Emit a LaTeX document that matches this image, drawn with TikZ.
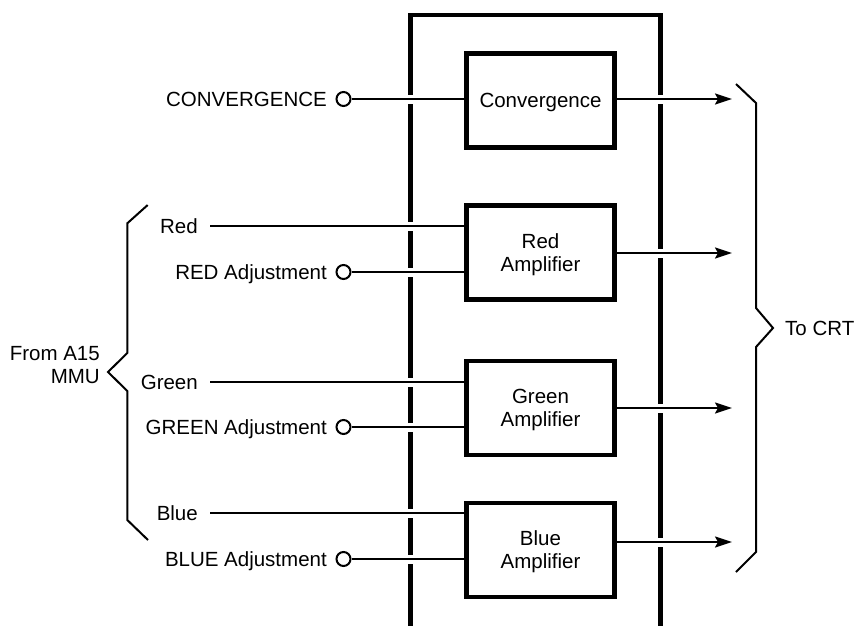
\documentclass[tikz,border=0pt]{standalone}
\usepackage{fontspec}
\setmainfont{Liberation Sans}
\usetikzlibrary{arrows.meta}
\begin{document}
\begin{tikzpicture}[x=1pt,y=-1pt,
  font=\fontsize{20.5pt}{23pt}\selectfont,
  lbl/.style={inner sep=0pt, text height=14.7pt, text depth=0pt},
  blk/.style={draw, line width=4.5pt, minimum width=148pt, minimum height=94pt,
              align=center, inner sep=0pt, text depth=0pt},
  term/.style={circle, draw, line width=2pt, minimum size=14pt, inner sep=0pt, fill=white},
  sig/.style={line width=2pt,
              preaction={draw=white, line width=9pt, -, shorten <=15pt, shorten >=15pt}},
  arr/.style={sig, -{Stealth[length=17pt,width=11pt,inset=3pt]}},
  brace/.style={line width=2pt, line join=miter},
  frame/.style={line width=4.5pt, line join=miter}]
\useasboundingbox (0,0) rectangle (857,625);

% outer frame (open at the bottom)
\draw[frame] (410.5,640) -- (410.5,15) -- (660.5,15) -- (660.5,640);

% blocks
\node[blk] (conv)  at (540.5,100.5) {Convergence};
\node[blk] (red)   at (540.5,252.7) {Red\\Amplifier};
\node[blk] (green) at (540.5,408)   {Green\\Amplifier};
\node[blk] (blue)  at (540.5,550)   {Blue\\Amplifier};

% terminals
\node[term] (cc) at (343.5,99)  {};
\node[term] (rc) at (343.5,272) {};
\node[term] (gc) at (343.5,427) {};
\node[term] (bc) at (343.5,559) {};

% labels
\node[lbl, anchor=east] (ccl) at (327,99)  {CONVERGENCE};
\node[lbl, anchor=east] (rcl) at (327,272) {RED Adjustment};
\node[lbl, anchor=east] (gcl) at (327,427) {GREEN Adjustment};
\node[lbl, anchor=east] (bcl) at (327,559) {BLUE Adjustment};
\node[lbl, anchor=east] (rl) at (198,226) {Red};
\node[lbl, anchor=east] (gl) at (198,382) {Green};
\node[lbl, anchor=east] (bl) at (198,513) {Blue};
\node[anchor=east, align=right, inner sep=0pt, text height=14.7pt, text depth=0pt] (mmu) at (100,376) {From A15\\MMU};
\node[lbl, anchor=west] (crt) at (785,328) {To CRT};

% signal line starts
\coordinate (rs) at (210,226);
\coordinate (gs) at (210,382);
\coordinate (bs) at (210,513);

% inputs
\draw[sig] (cc) -- (cc -| conv.west);
\draw[sig] (rs) -- (rs -| red.west);
\draw[sig] (rc) -- (rc -| red.west);
\draw[sig] (gs) -- (gs -| green.west);
\draw[sig] (gc) -- (gc -| green.west);
\draw[sig] (bs) -- (bs -| blue.west);
\draw[sig] (bc) -- (bc -| blue.west);

% outputs
\coordinate (co) at (732,99);
\coordinate (ro) at (732,253);
\coordinate (go) at (732,408);
\coordinate (bo) at (732,542);
\draw[arr] (conv.east |- co) -- (co);
\draw[arr] (red.east |- ro) -- (ro);
\draw[arr] (green.east |- go) -- (go);
\draw[arr] (blue.east |- bo) -- (bo);

% braces
\draw[brace] (147.7,205) -- (127.3,223.3) -- (127.3,353) -- (108,372) -- (127.3,391) -- (127.3,520) -- (148,540);
\draw[brace] (736,84) -- (756,103) -- (756,308) -- (773,328) -- (756,347) -- (756,552) -- (736,572);
\end{tikzpicture}
\end{document}
